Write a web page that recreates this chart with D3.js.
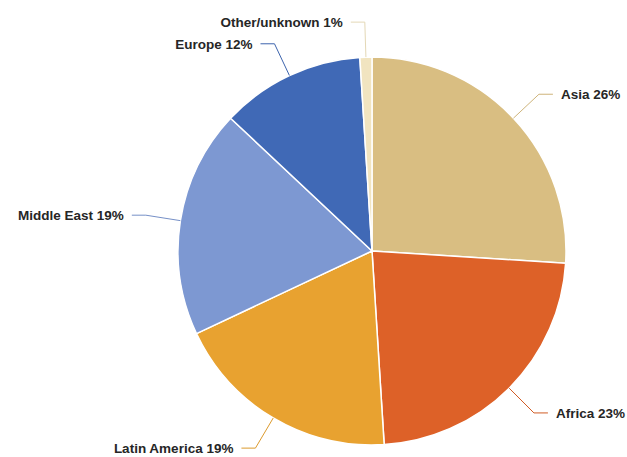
<!DOCTYPE html>
<html>
<head>
<meta charset="utf-8">
<script src="https://cdn.jsdelivr.net/npm/d3@7"></script>
<style>
  html, body { margin: 0; padding: 0; background: #fff; }
  svg { display: block; }
  .lbl { font-family: "Liberation Sans", Arial, sans-serif; font-weight: bold; font-size: 13.5px; fill: #262626; }
</style>
</head>
<body>
<svg id="chart" width="627" height="457"></svg>
<script>
// Share of total by region of origin (percent)
const regions = ["Asia", "Africa", "Latin America", "Middle East", "Europe", "Other/unknown"];
const shares  = [26, 23, 19, 19, 12, 1];
const colors  = ["#D9BE82", "#DD6128", "#E8A230", "#7D98D2", "#4069B6", "#F1E4C0"];

const width = 627, height = 457;
const cx = 372, cy = 251, radius = 194;

const svg = d3.select("#chart");
const g = svg.append("g").attr("transform", `translate(${cx},${cy})`);

const pie = d3.pie().sort(null).value(d => d.value);
const data = pie(regions.map((name, i) => ({ name, value: shares[i], color: colors[i] })));

const arc = d3.arc().innerRadius(0).outerRadius(radius);

g.selectAll("path.slice")
  .data(data)
  .join("path")
  .attr("class", "slice")
  .attr("d", arc)
  .attr("fill", d => d.data.color)
  .attr("stroke", "#fff")
  .attr("stroke-width", 1.5)
  .attr("stroke-linejoin", "round");

// Connector lines: from slice edge out to an elbow, then a short horizontal run
const elbowOut = 35, runLen = 14, gap = 8;
const polar = (a, r) => [Math.sin(a) * r, -Math.cos(a) * r];

data.forEach(d => {
  const mid = (d.startAngle + d.endAngle) / 2;
  const p0 = polar(mid, radius);
  const p1 = polar(mid, radius + elbowOut);
  const right = Math.sin(mid) > 0;
  const p2 = [p1[0] + (right ? runLen : -runLen), p1[1]];

  g.append("polyline")
    .attr("points", [p0, p1, p2].map(p => p.join(",")).join(" "))
    .attr("fill", "none")
    .attr("stroke", d3.color(d.data.color).darker(0.15))
    .attr("stroke-width", 1);

  g.append("text")
    .attr("class", "lbl")
    .attr("x", p2[0] + (right ? gap : -gap))
    .attr("y", p2[1])
    .attr("dy", "0.35em")
    .attr("text-anchor", right ? "start" : "end")
    .text(`${d.data.name} ${d.data.value}%`);
});
</script>
</body>
</html>
